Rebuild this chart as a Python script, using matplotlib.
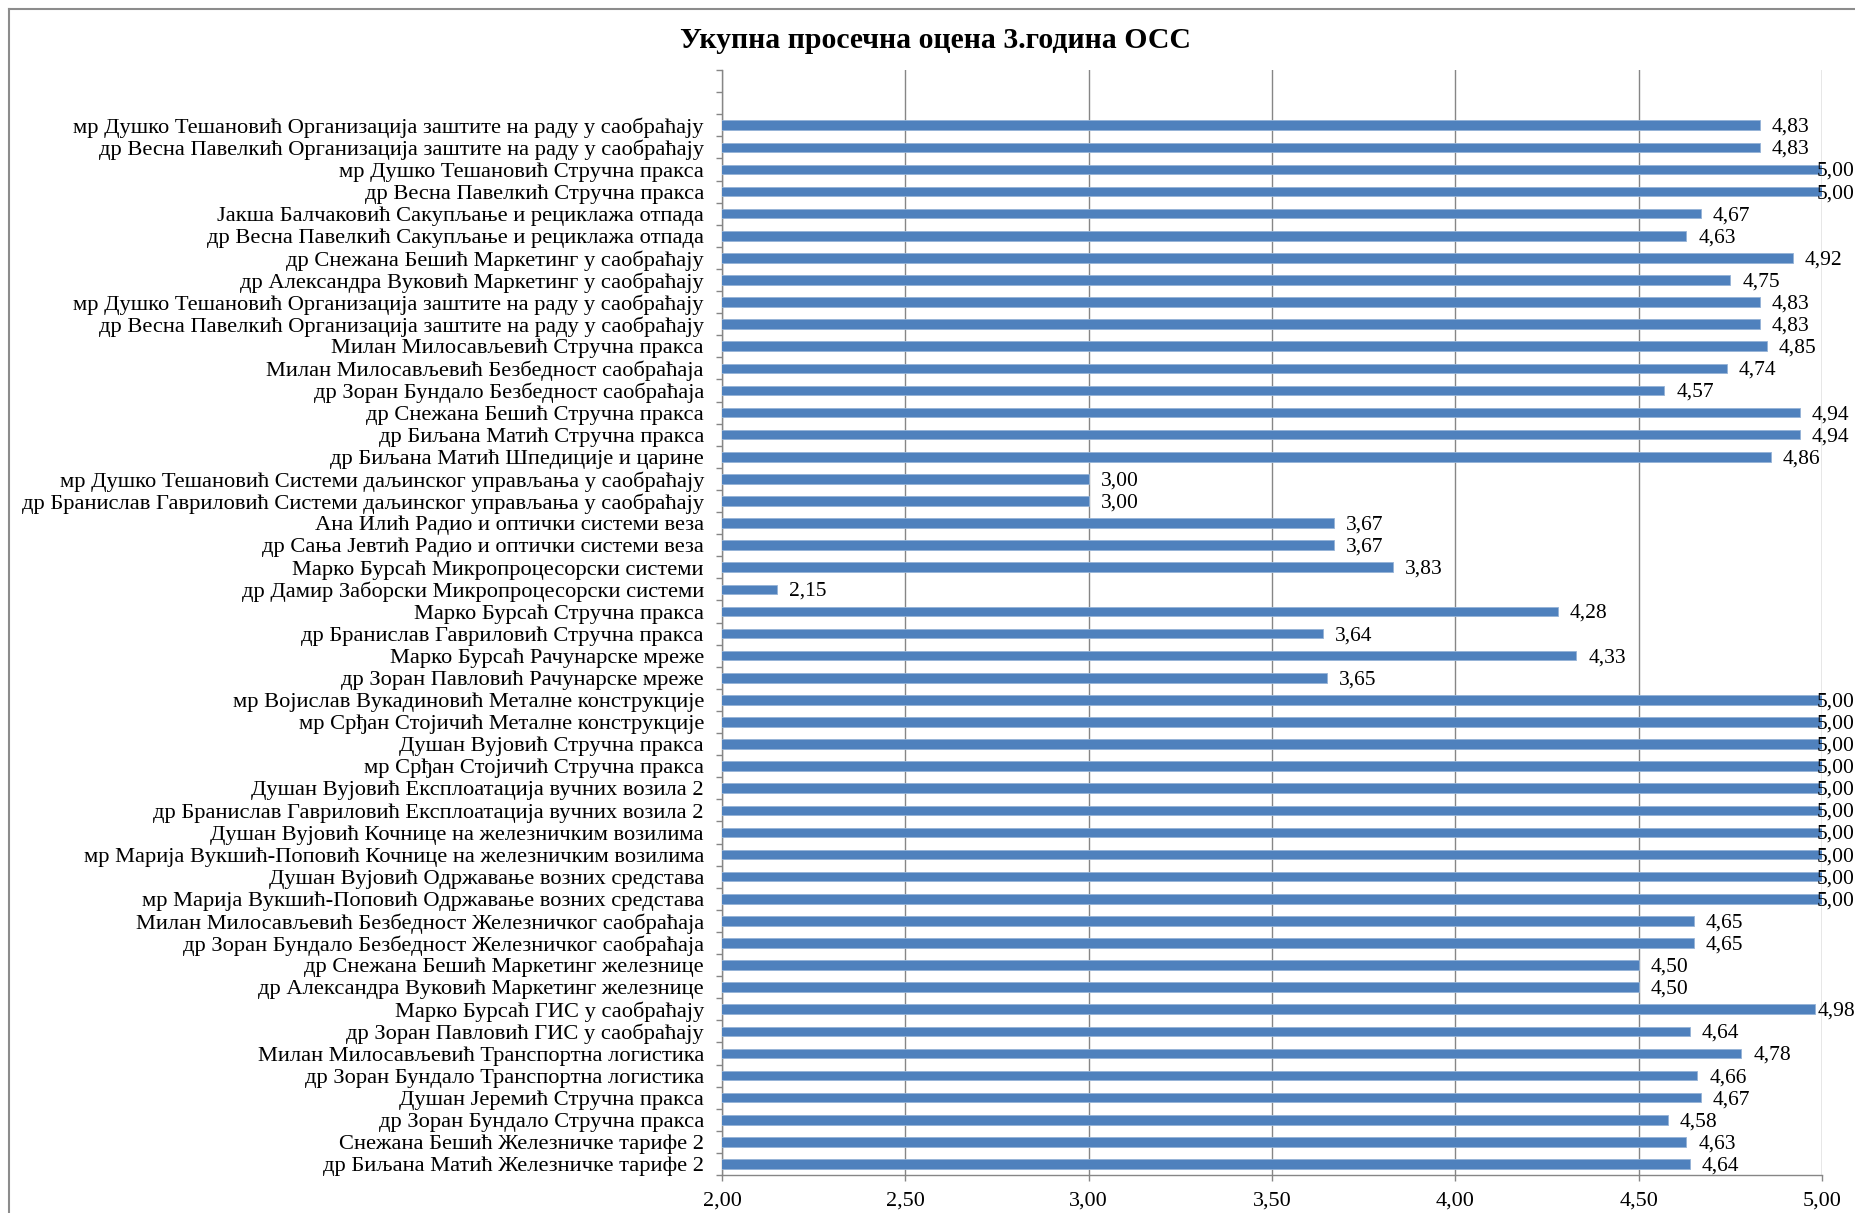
import matplotlib
matplotlib.use('Agg')
import matplotlib.pyplot as plt
import numpy as np
from matplotlib.lines import Line2D
from matplotlib.ticker import FixedLocator

title = "Укупна просечна оцена 3.година ОСС"

categories = [
    "мр Душко Тешановић Организација заштите на раду у саобраћају",
    "др Весна Павелкић Организација заштите на раду у саобраћају",
    "мр Душко Тешановић Стручна пракса",
    "др Весна Павелкић Стручна пракса",
    "Јакша Балчаковић Сакупљање и рециклажа отпада",
    "др Весна Павелкић Сакупљање и рециклажа отпада",
    "др Снежана Бешић Маркетинг у саобраћају",
    "др Александра Вуковић Маркетинг у саобраћају",
    "мр Душко Тешановић Организација заштите на раду у саобраћају",
    "др Весна Павелкић Организација заштите на раду у саобраћају",
    "Милан Милосављевић Стручна пракса",
    "Милан Милосављевић Безбедност саобраћаја",
    "др Зоран Бундало Безбедност саобраћаја",
    "др Снежана Бешић Стручна пракса",
    "др Биљана Матић Стручна пракса",
    "др Биљана Матић Шпедиције и царине",
    "мр Душко Тешановић Системи даљинског управљања у саобраћају",
    "др Бранислав Гавриловић Системи даљинског управљања у саобраћају",
    "Ана Илић Радио и оптички системи веза",
    "др Сања Јевтић Радио и оптички системи веза",
    "Марко Бурсаћ Микропроцесорски системи",
    "др Дамир Заборски Микропроцесорски системи",
    "Марко Бурсаћ Стручна пракса",
    "др Бранислав Гавриловић Стручна пракса",
    "Марко Бурсаћ Рачунарске мреже",
    "др Зоран Павловић Рачунарске мреже",
    "мр Војислав Вукадиновић Металне конструкције",
    "мр Срђан Стојичић Металне конструкције",
    "Душан Вујовић Стручна пракса",
    "мр Срђан Стојичић Стручна пракса",
    "Душан Вујовић Експлоатација вучних возила 2",
    "др Бранислав Гавриловић Експлоатација вучних возила 2",
    "Душан Вујовић Кочнице на железничким возилима",
    "мр Марија Вукшић-Поповић Кочнице на железничким возилима",
    "Душан Вујовић Одржавање возних средстава",
    "мр Марија Вукшић-Поповић Одржавање возних средстава",
    "Милан Милосављевић Безбедност Железничког саобраћаја",
    "др Зоран Бундало Безбедност Железничког саобраћаја",
    "др Снежана Бешић Маркетинг железнице",
    "др Александра Вуковић Маркетинг железнице",
    "Марко Бурсаћ ГИС у саобраћају",
    "др Зоран Павловић ГИС у саобраћају",
    "Милан Милосављевић Транспортна логистика",
    "др Зоран Бундало Транспортна логистика",
    "Душан Јеремић Стручна пракса",
    "др Зоран Бундало Стручна пракса",
    "Снежана Бешић Железничке тарифе 2",
    "др Биљана Матић Железничке тарифе 2",
]

values = [
    4.83, 4.83, 5.00, 5.00, 4.67, 4.63, 4.92, 4.75, 4.83, 4.83,
    4.85, 4.74, 4.57, 4.94, 4.94, 4.86, 3.00, 3.00, 3.67, 3.67,
    3.83, 2.15, 4.28, 3.64, 4.33, 3.65, 5.00, 5.00, 5.00, 5.00,
    5.00, 5.00, 5.00, 5.00, 5.00, 5.00, 4.65, 4.65, 4.50, 4.50,
    4.98, 4.64, 4.78, 4.66, 4.67, 4.58, 4.63, 4.64,
]

x_ticks = [2.00, 2.50, 3.00, 3.50, 4.00, 4.50, 5.00]
n_empty_top = 2

plt.rcParams['font.family'] = ['Liberation Serif', 'DejaVu Serif']
FS_CAT = 16.2
FS_VAL = 15.5
FS_TICK = 16
GRAY = '#868686'

W, H = 1856, 1213
fig = plt.figure(figsize=(W / 100, H / 100), dpi=100)
ax = fig.add_axes([722 / W, 1 - 1175 / H, 1100 / W, (1175 - 70) / H])

n = len(categories)
y = np.arange(n)
ax.barh(y, values, height=0.43, color='#4F81BD', edgecolor='#95B3D7', linewidth=0.6, zorder=3)

ax.set_xlim(x_ticks[0], x_ticks[-1])
ax.set_ylim(n - 0.5, -0.5 - n_empty_top)

ax.set_xticks(x_ticks)
ax.set_xticklabels([f"{t:.2f}".replace('.', ',') for t in x_ticks], fontsize=FS_TICK)
ax.set_yticks(y)
ax.set_yticklabels(categories, fontsize=FS_CAT)
ax.yaxis.set_minor_locator(FixedLocator(np.arange(-0.5 - n_empty_top, n, 1.0)))
ax.tick_params(axis='y', which='major', length=0, pad=13)
ax.tick_params(axis='y', which='minor', length=4, color=GRAY, width=1, direction='out')
ax.tick_params(axis='x', which='major', length=4, color=GRAY, width=1, direction='out', pad=8)

ax.grid(axis='x', color=GRAY, linewidth=1, zorder=0)
ax.set_axisbelow(True)
for s in ['top', 'right']:
    ax.spines[s].set_visible(False)
for s in ['left', 'bottom']:
    ax.spines[s].set_color(GRAY)
    ax.spines[s].set_linewidth(1)

labels = []
for i, v in enumerate(values):
    t = ax.annotate(f"{v:.2f}".replace('.', ','), xy=(v, i), xytext=(12, -2),
                    textcoords='offset pixels', va='center', ha='left', fontsize=FS_VAL,
                    annotation_clip=False, zorder=4)
    labels.append(t)

fig.text(935 / W, 1 - 40 / H, title, ha='center', va='center', fontsize=21.4, weight='bold')

# chart border
fig.add_artist(Line2D([9 / W, 1], [1 - 9 / H, 1 - 9 / H], color='#8C8C8C', linewidth=1.5))
fig.add_artist(Line2D([9 / W, 9 / W], [0, 1 - 9 / H], color='#8C8C8C', linewidth=1.5))

fig.canvas.draw()
r = fig.canvas.get_renderer()
for t in labels:
    bb = t.get_window_extent(r)
    if bb.x1 > W - 1:
        t.xyann = (12 - (bb.x1 - (W - 1)), -2)

fig.savefig('out.png', dpi=100, facecolor='white')
